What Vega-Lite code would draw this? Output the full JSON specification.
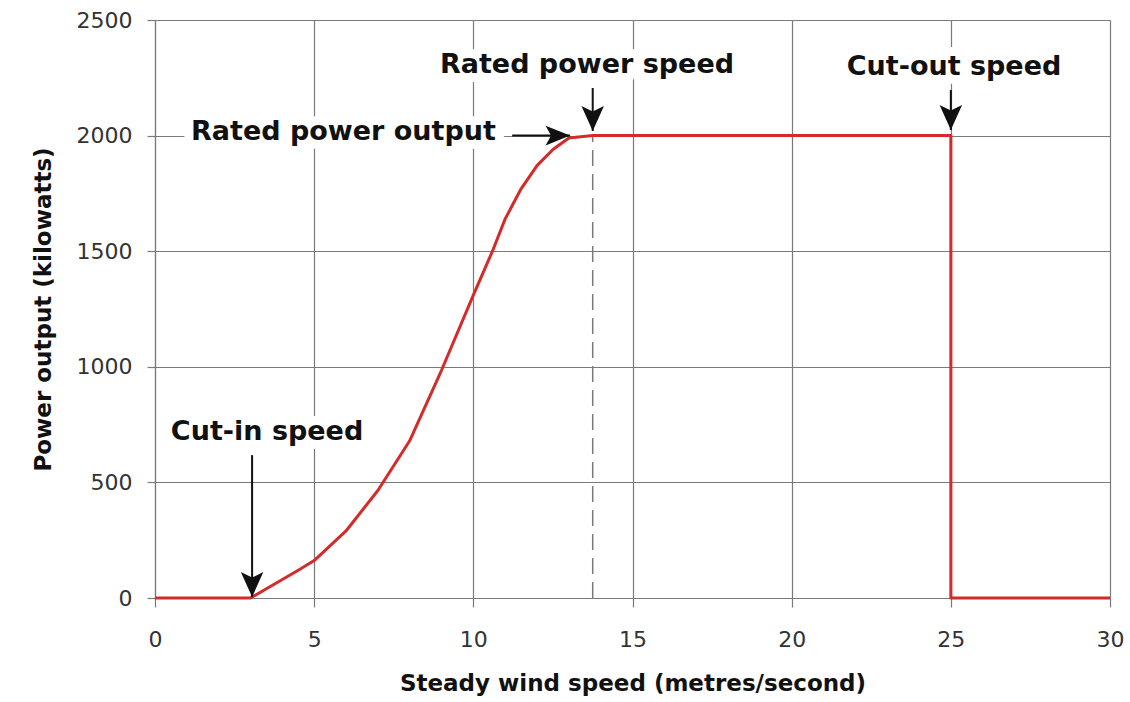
{
  "$schema": "https://vega.github.io/schema/vega-lite/v6.json",
  "width": 955,
  "height": 578,
  "autosize": "none",
  "padding": {"left": 155, "top": 20, "right": 20, "bottom": 104},
  "background": "white",
  "config": {
    "view": {"stroke": null},
    "font": "DejaVu Sans",
    "axis": {
      "domainColor": "#7a7a7a",
      "domainWidth": 1.2,
      "gridColor": "#7a7a7a",
      "gridWidth": 1.2,
      "gridOpacity": 1,
      "tickColor": "#7a7a7a",
      "tickWidth": 1.2,
      "labelFont": "DejaVu Sans",
      "labelFontSize": 22,
      "labelColor": "#333333",
      "labelFlush": false,
      "titleFont": "DejaVu Sans",
      "titleFontSize": 23,
      "titleFontWeight": "bold",
      "titleColor": "#111111"
    }
  },
  "datasets": {
    "curve": [
      {"i": 0, "speed": 0, "power": 0},
      {"i": 1, "speed": 3, "power": 0},
      {"i": 2, "speed": 3.5, "power": 40},
      {"i": 3, "speed": 4, "power": 80},
      {"i": 4, "speed": 4.5, "power": 120},
      {"i": 5, "speed": 5, "power": 162},
      {"i": 6, "speed": 6, "power": 290},
      {"i": 7, "speed": 7, "power": 465},
      {"i": 8, "speed": 8, "power": 680},
      {"i": 9, "speed": 9, "power": 985},
      {"i": 10, "speed": 10, "power": 1310},
      {"i": 11, "speed": 10.6, "power": 1500},
      {"i": 12, "speed": 11, "power": 1640},
      {"i": 13, "speed": 11.5, "power": 1770},
      {"i": 14, "speed": 12, "power": 1870},
      {"i": 15, "speed": 12.5, "power": 1940},
      {"i": 16, "speed": 13, "power": 1990},
      {"i": 17, "speed": 13.75, "power": 2000},
      {"i": 18, "speed": 25, "power": 2000},
      {"i": 19, "speed": 25, "power": 0},
      {"i": 20, "speed": 30, "power": 0}
    ],
    "arrows": [
      {"name": "cutin", "dir": "down", "x": 3.05, "y": 618, "x2": 3.05, "y2": 4},
      {"name": "ratedspeed", "dir": "down", "x": 13.75, "y": 2206, "x2": 13.75, "y2": 2020},
      {"name": "ratedoutput", "dir": "right", "x": 11.22, "y": 2000, "x2": 13.04, "y2": 2000},
      {"name": "cutout", "dir": "down", "x": 25, "y": 2197, "x2": 25, "y2": 2024}
    ],
    "labels": [
      {"label": "Rated power speed", "x": 13.57, "y": 2271},
      {"label": "Rated power output", "x": 5.92, "y": 1981},
      {"label": "Cut-out speed", "x": 25.1, "y": 2262},
      {"label": "Cut-in speed", "x": 3.52, "y": 683}
    ]
  },
  "layer": [
    {
      "data": {"name": "labels"},
      "mark": {"type": "text", "font": "DejaVu Sans", "fontWeight": "bold", "fontSize": 27, "align": "center", "baseline": "alphabetic", "fill": "white", "stroke": "white", "strokeWidth": 18, "strokeJoin": "round"},
      "encoding": {
        "x": {"field": "x", "type": "quantitative", "scale": {"domain": [0, 30], "nice": false}, "axis": {"values": [0, 5, 10, 15, 20, 25, 30], "tickSize": 9, "labelPadding": 22, "titlePadding": 22, "title": "Steady wind speed (metres/second)", "grid": true}},
        "y": {"field": "y", "type": "quantitative", "scale": {"domain": [0, 2500], "nice": false}, "axis": {"values": [0, 500, 1000, 1500, 2000, 2500], "format": "d", "tickSize": 8, "labelPadding": 15, "titlePadding": 21, "title": "Power output (kilowatts)", "grid": true}},
        "text": {"field": "label"}
      }
    },
    {
      "mark": {"type": "rule", "color": "#444444", "strokeWidth": 2},
      "encoding": {"y": {"datum": 2500, "type": "quantitative"}}
    },
    {
      "data": {"values": [{"x": 13.75, "y": 0, "y2": 2000}]},
      "mark": {"type": "rule", "color": "#7a7a7a", "strokeWidth": 1.5, "strokeDash": [16, 8]},
      "encoding": {
        "x": {"field": "x", "type": "quantitative"},
        "y": {"field": "y", "type": "quantitative"},
        "y2": {"field": "y2"}
      }
    },
    {
      "data": {"name": "curve"},
      "mark": {"type": "line", "color": "#d42a2a", "strokeWidth": 3, "strokeJoin": "round"},
      "encoding": {
        "x": {"field": "speed", "type": "quantitative"},
        "y": {"field": "power", "type": "quantitative"},
        "order": {"field": "i", "type": "quantitative"}
      }
    },
    {
      "data": {"name": "arrows"},
      "mark": {"type": "rule", "color": "#111111", "strokeWidth": 2},
      "encoding": {
        "x": {"field": "x", "type": "quantitative"},
        "y": {"field": "y", "type": "quantitative"},
        "x2": {"field": "x2"},
        "y2": {"field": "y2"}
      }
    },
    {
      "data": {"name": "arrows"},
      "transform": [{"filter": "datum.dir === 'down'"}],
      "mark": {"type": "point", "shape": "M0,0L-0.45,-1L0,-0.78L0.45,-1Z", "size": 2500, "filled": true, "color": "#111111", "opacity": 1},
      "encoding": {
        "x": {"field": "x2", "type": "quantitative"},
        "y": {"field": "y2", "type": "quantitative"}
      }
    },
    {
      "data": {"name": "arrows"},
      "transform": [{"filter": "datum.dir === 'right'"}],
      "mark": {"type": "point", "shape": "M0,0L-1,-0.4L-0.78,0L-1,0.4Z", "size": 2400, "filled": true, "color": "#111111", "opacity": 1},
      "encoding": {
        "x": {"field": "x2", "type": "quantitative"},
        "y": {"field": "y2", "type": "quantitative"}
      }
    },
    {
      "data": {"name": "labels"},
      "mark": {"type": "text", "font": "DejaVu Sans", "fontWeight": "bold", "fontSize": 27, "align": "center", "baseline": "alphabetic", "color": "#111111"},
      "encoding": {
        "x": {"field": "x", "type": "quantitative"},
        "y": {"field": "y", "type": "quantitative"},
        "text": {"field": "label"}
      }
    }
  ]
}
